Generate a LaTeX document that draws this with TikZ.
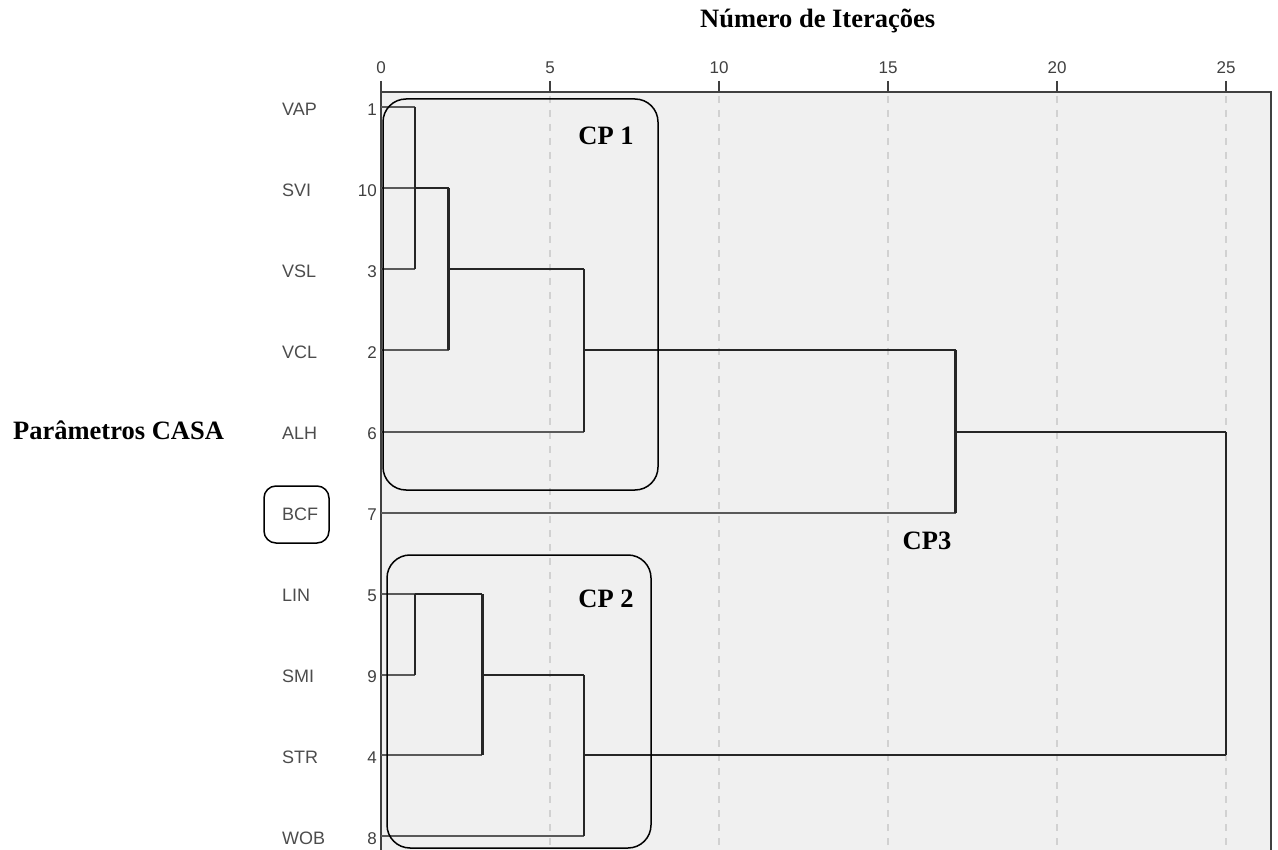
\documentclass[tikz,border=0pt]{standalone}
\usepackage{fontspec}
\setmainfont{Liberation Serif}
\setsansfont{Liberation Sans}
\usetikzlibrary{positioning}

\begin{document}
\begin{tikzpicture}[
    x=1pt, y=-1pt,
    leaf/.style={draw=black!65, line width=1.7pt},
    link/.style={draw=black!85, line width=2.6pt},
    gridline/.style={draw=black!18, line width=1.4pt, dash pattern=on 7pt off 7pt},
    clubox/.style={draw=black, line width=1.5pt, rounded corners=23pt},
    varlab/.style={font=\sffamily\fontsize{18}{20}\selectfont, text=black!70, anchor=west, inner sep=0pt},
    numlab/.style={font=\sffamily\fontsize{17}{19}\selectfont, text=black!75, anchor=east, inner sep=0pt},
    cplab/.style={font=\bfseries\fontsize{26.5}{30}\selectfont}
]
\useasboundingbox (0,0) rectangle (1278,850);

% Plot area
\fill[black!6] (381,92) rectangle (1271,850);
\draw[black!75, line width=2pt] (381,850) -- (381,92) -- (1271,92) -- (1271,850);

% Axis, ticks and grid
\foreach \t in {0,5,...,25} {
    \draw[black!75, line width=2pt] ({381+33.8*\t},81) -- ({381+33.8*\t},92);
    \node[font=\sffamily\fontsize{17}{19}\selectfont, text=black!75] (tick\t) at ({381+33.8*\t},68) {\t};
}
\foreach \t in {5,10,...,25}
    \draw[gridline] ({381+33.8*\t},96) -- ({381+33.8*\t},850);

% Titles
\node[cplab, anchor=base west, inner sep=0pt] (xtitle) at (700,28) {Número de Iterações};
\node[cplab, anchor=base west, inner sep=0pt] (ytitle) at (13,439) {Parâmetros CASA};

% Variables and case numbers
\foreach \v/\n [count=\i from 0] in {VAP/1,SVI/10,VSL/3,VCL/2,ALH/6,BCF/7,LIN/5,SMI/9,STR/4,WOB/8} {
    \node[varlab] (v\n) at (282, 109+81*\i) {\v};
    \node[numlab] (n\n) at (377, 110+81*\i) {\n};
}

% Dendrogram
\begin{scope}[shift={(381,0)}, x=33.8pt]
    % leaves
    \draw[leaf] (0,107) -- (1,107);
    \draw[leaf] (0,188) -- (2,188);
    \draw[leaf] (0,269) -- (1,269);
    \draw[leaf] (0,350) -- (2,350);
    \draw[leaf] (0,432) -- (6,432);
    \draw[leaf] (0,513) -- (17,513);
    \draw[leaf] (0,594) -- (1,594);
    \draw[leaf] (0,675) -- (1,675);
    \draw[leaf] (0,755) -- (3,755);
    \draw[leaf] (0,836) -- (6,836);
    % upper cluster
    \draw[link] (1,107) -- (1,269);
    \draw[link] (1,188) -- (2,188);
    \draw[link] (2,188) -- (2,350);
    \draw[link] (2,269) -- (6,269);
    \draw[link] (6,269) -- (6,432);
    \draw[link] (6,350) -- (17,350);
    \draw[link] (17,350) -- (17,513);
    \draw[link] (17,432) -- (25,432);
    % lower cluster
    \draw[link] (1,594) -- (1,675);
    \draw[link] (1,594) -- (3,594);
    \draw[link] (3,594) -- (3,755);
    \draw[link] (3,675) -- (6,675);
    \draw[link] (6,675) -- (6,836);
    \draw[link] (6,755) -- (25,755);
    % top join
    \draw[link] (25,432) -- (25,755);
\end{scope}

% Group boxes
\draw[clubox] (383,99) rectangle (658,490);
\draw[clubox] (387,555) rectangle (651,848);
\draw[clubox, rounded corners=12pt] (264,486) rectangle (329,543);

% Group labels
\node[cplab] (cp1) at (606,136) {CP 1};
\node[cplab] (cp2) at (606,599) {CP 2};
\node[cplab] (cp3) at (927,541) {CP3};

\end{tikzpicture}
\end{document}
